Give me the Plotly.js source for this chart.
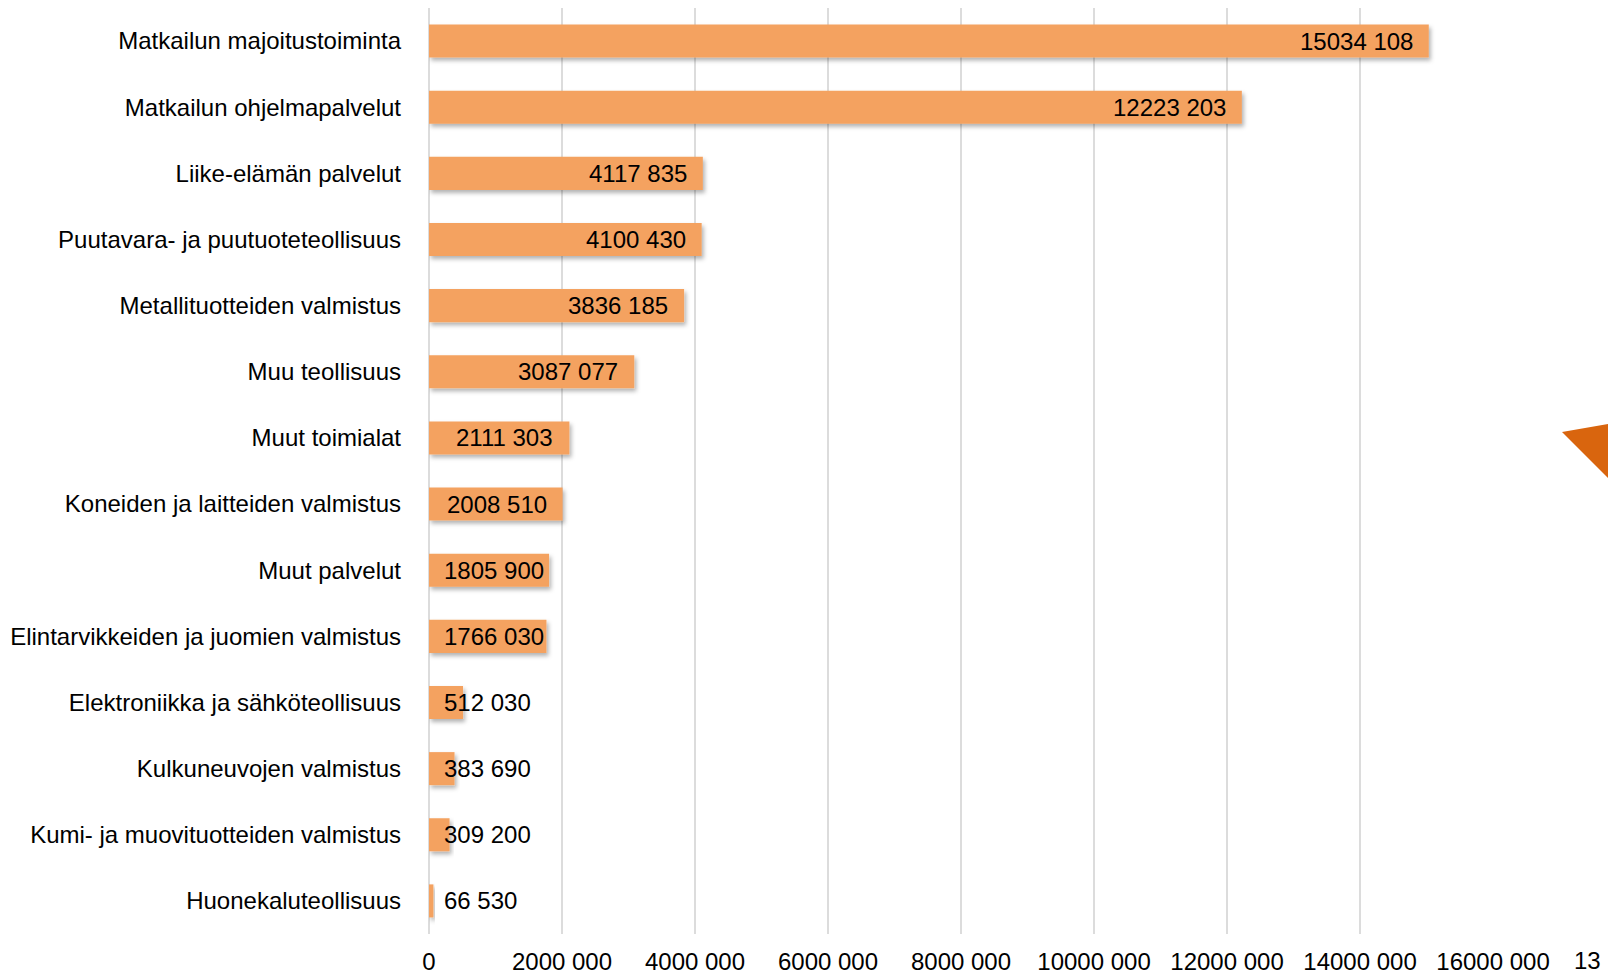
<!DOCTYPE html>
<html>
<head>
<meta charset="utf-8">
<script src="https://cdn.plot.ly/plotly-3.0.1.min.js"></script>
<style>
html,body{margin:0;padding:0;background:#fff;}
#chart{width:1608px;height:975px;}
</style>
</head>
<body>
<div id="chart"></div>
<script>
const categories = [
  "Matkailun majoitustoiminta",
  "Matkailun ohjelmapalvelut",
  "Liike-elämän palvelut",
  "Puutavara- ja puutuoteteollisuus",
  "Metallituotteiden valmistus",
  "Muu teollisuus",
  "Muut toimialat",
  "Koneiden ja laitteiden valmistus",
  "Muut palvelut",
  "Elintarvikkeiden ja juomien valmistus",
  "Elektroniikka ja sähköteollisuus",
  "Kulkuneuvojen valmistus",
  "Kumi- ja muovituotteiden valmistus",
  "Huonekaluteollisuus"
];
const values = [15034108, 12223203, 4117835, 4100430, 3836185, 3087077, 2111303, 2008510, 1805900, 1766030, 512030, 383690, 309200, 66530];
const tickValues = [0, 2000000, 4000000, 6000000, 8000000, 10000000, 12000000, 14000000, 16000000];
const tickLabels = ["0", "2000 000", "4000 000", "6000 000", "8000 000", "10000 000", "12000 000", "14000 000", "16000 000"];
const pageNumber = "13";

function fmt(v) {
  const hi = Math.floor(v / 1000), lo = v % 1000;
  return (hi > 0 ? hi + " " + String(lo).padStart(3, "0") : String(lo));
}

const FONT = "Liberation Sans, Arial, sans-serif";
const FS = 24;
const M = {l: 429, r: 115, t: 8, b: 41};
const W = 1608, H = 975;
const plotW = W - M.l - M.r;
const xMax = 16000000;

const cnv = document.createElement("canvas").getContext("2d");
cnv.font = FS + "px 'Liberation Sans'";

const annotations = values.map((v, i) => {
  const txt = fmt(v);
  const w = cnv.measureText(txt).width;
  const barPx = v / xMax * plotW;
  const rightPx = Math.max(barPx - 16, 15 + w);
  return {
    x: v, y: categories[i], xref: "x", yref: "y",
    text: txt, showarrow: false, xanchor: "right", yanchor: "middle",
    xshift: rightPx - barPx, borderpad: 0, borderwidth: 0,
    font: {family: FONT, size: FS, color: "#000"}
  };
});

const pageH = H - M.t - M.b;
const px2x = p => (p - M.l) / plotW;
const px2y = p => (H - M.b - p) / pageH;

annotations.push({
  xref: "paper", yref: "paper", x: px2x(1587), y: px2y(960),
  text: pageNumber, showarrow: false, xanchor: "center", yanchor: "middle",
  font: {family: FONT, size: 24, color: "#000"}
});

const tri = `M ${px2x(1562)},${px2y(432)} L ${px2x(1620)},${px2y(422)} L ${px2x(1620)},${px2y(490)} Z`;

const trace = {
  type: "bar", orientation: "h",
  x: values, y: categories,
  marker: {color: "#F4A261", line: {width: 0}},
  hoverinfo: "none"
};

const layout = {
  width: W, height: H,
  margin: M,
  paper_bgcolor: "#fff", plot_bgcolor: "#fff",
  bargap: 0.5,
  showlegend: false,
  font: {family: FONT, size: FS, color: "#000"},
  xaxis: {
    range: [0, xMax], tickvals: tickValues, ticktext: tickLabels,
    showgrid: true, gridcolor: "#DCDCDC", gridwidth: 1.5,
    zeroline: true, zerolinecolor: "#DCDCDC", zerolinewidth: 1.5,
    showline: false, ticks: "", ticklabelstandoff: 11,
    tickfont: {family: FONT, size: FS, color: "#000"}, fixedrange: true
  },
  yaxis: {
    type: "category", autorange: "reversed",
    showgrid: false, zeroline: false, showline: false, ticks: "",
    ticklabelstandoff: 27,
    tickfont: {family: FONT, size: FS, color: "#000"}, fixedrange: true
  },
  annotations: annotations,
  shapes: [{type: "path", xref: "paper", yref: "paper", path: tri,
            fillcolor: "#D9650E", line: {width: 0}, layer: "above"}]
};

Plotly.newPlot("chart", [trace], layout, {staticPlot: true, displayModeBar: false}).then(gd => {
  const svg = gd.querySelector(".main-svg");
  const ns = "http://www.w3.org/2000/svg";
  let defs = svg.querySelector("defs");
  if (!defs) { defs = document.createElementNS(ns, "defs"); svg.insertBefore(defs, svg.firstChild); }
  const f = document.createElementNS(ns, "filter");
  f.setAttribute("id", "barShadow");
  f.setAttribute("x", "-10%"); f.setAttribute("y", "-30%");
  f.setAttribute("width", "130%"); f.setAttribute("height", "180%");
  const ds = document.createElementNS(ns, "feDropShadow");
  ds.setAttribute("dx", "2"); ds.setAttribute("dy", "3");
  ds.setAttribute("stdDeviation", "2");
  ds.setAttribute("flood-color", "#000"); ds.setAttribute("flood-opacity", "0.3");
  f.appendChild(ds); defs.appendChild(f);
  gd.querySelectorAll(".barlayer .point path").forEach(p => p.setAttribute("filter", "url(#barShadow)"));
});
</script>
</body>
</html>
